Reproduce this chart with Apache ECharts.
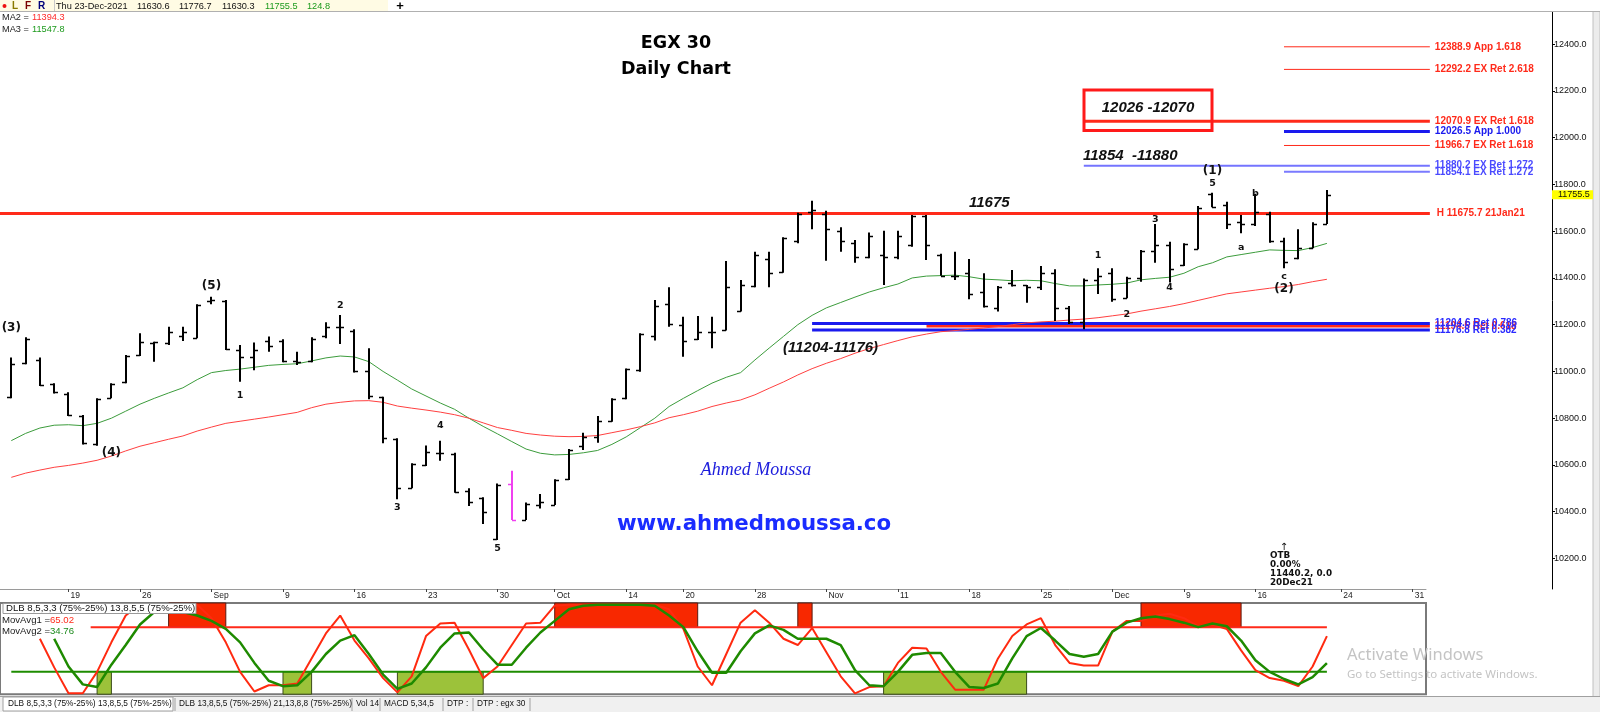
<!DOCTYPE html>
<html><head><meta charset="utf-8">
<script src="https://cdn.jsdelivr.net/npm/echarts@6.0.0/dist/echarts.min.js"></script>
<style>html,body{margin:0;padding:0;background:#fff}#c{width:1600px;height:712px}</style>
</head><body><div id="c"></div><script>
// ---------- DATA ----------
const barOpen  = [10890,11035,11050,10945,10905,10810,10690,10885,10955,11070,11120,11120,11150,11145,11300,11300,11090,11060,11130,11130,11045,11045,11150,11190,11175,11000,10890,10710,10500,10600,10650,10645,10490,10460,10285,10520,10365,10430,10430,10540,10680,10720,10790,10885,11005,11150,11290,11200,11140,11170,11178,11260,11365,11480,11425,11560,11680,11675,11600,11550,11490,11500,11490,11540,11665,11500,11410,11420,11340,11270,11380,11370,11360,11420,11270,11210,11390,11420,11315,11400,11515,11540,11455,11525,11760,11710,11640,11630,11675,11560,11485,11530,11630.6];
const barHigh  = [11060,11146,11060,10949,10911,10814,10885,10949,11070,11163,11127,11191,11191,11287,11320,11306,11113,11124,11149,11138,11084,11146,11210,11241,11180,11099,10892,10714,10607,10683,10704,10652,10500,10462,10521,10575,10439,10476,10539,10668,10738,10809,10885,11013,11163,11306,11360,11234,11237,11234,11473,11391,11512,11512,11574,11679,11730,11688,11617,11562,11594,11602,11602,11669,11669,11503,11512,11481,11420,11366,11434,11370,11451,11437,11280,11398,11441,11441,11405,11520,11631,11555,11548,11708,11765,11726,11669,11760,11683,11572,11608,11638,11776.7];
const barLow   = [10885,11031,10938,10906,10809,10688,10682,10885,10949,11066,11042,11113,11130,11142,11287,11092,10956,11005,11084,11039,11028,11039,11142,11117,10996,10881,10693,10453,10500,10595,10618,10481,10424,10347,10279,10364,10364,10414,10429,10536,10664,10695,10785,10881,10999,11132,11191,11063,11135,11099,11175,11256,11360,11360,11422,11548,11608,11474,11512,11465,11484,11370,11480,11533,11477,11409,11391,11309,11274,11256,11363,11294,11348,11216,11203,11180,11331,11298,11313,11384,11465,11380,11451,11523,11702,11609,11591,11622,11551,11441,11480,11527,11630.3];
const barClose = [11031,11140,10942,10912,10812,10692,10880,10945,11066,11125,11125,11170,11170,11285,11305,11095,11060,11090,11110,11045,11040,11140,11190,11190,11000,10895,10715,10500,10605,10655,10650,10485,10440,10400,10515,10365,10435,10440,10535,10665,10720,10790,10880,11010,11160,11280,11205,11130,11170,11170,11360,11370,11500,11420,11570,11675,11690,11610,11560,11490,11580,11490,11580,11665,11540,11410,11410,11330,11280,11360,11370,11360,11420,11270,11210,11390,11410,11310,11400,11515,11540,11440,11545,11700,11705,11630,11630,11680,11560,11470,11530,11630,11755.5];
const highlightBars = [35];
const ma3 = [10704,10735,10758,10770,10772,10768,10778,10800,10830,10860,10885,10908,10930,10965,10995,11004,11010,11018,11026,11030,11033,11045,11058,11066,11062,11042,11000,10963,10925,10895,10865,10838,10800,10765,10733,10700,10668,10650,10643,10645,10652,10662,10688,10720,10760,10800,10850,10885,10918,10950,10975,10995,11049,11100,11150,11200,11240,11272,11295,11318,11340,11358,11374,11400,11408,11410,11412,11405,11395,11392,11388,11390,11388,11376,11366,11366,11370,11373,11378,11392,11398,11403,11420,11448,11465,11490,11500,11510,11520,11518,11517,11530,11547.8];
const ma2 = [10547,10565,10578,10590,10598,10608,10620,10638,10660,10680,10695,10710,10724,10745,10762,10778,10787,10796,10805,10815,10825,10845,10860,10868,10874,10875,10868,10852,10843,10835,10826,10815,10800,10780,10760,10748,10735,10728,10723,10721,10722,10726,10738,10750,10764,10780,10802,10815,10830,10850,10865,10878,10900,10928,10955,10985,11012,11035,11055,11078,11098,11115,11132,11148,11160,11170,11175,11180,11186,11192,11200,11208,11212,11215,11220,11224,11230,11238,11246,11258,11268,11278,11290,11304,11318,11332,11340,11348,11356,11363,11372,11384,11394.3];
const oscFast = [null,null,62,30,1,1,25,58,88,100,100,100,100,100,85,58,25,3,10,10,12,40,68,88,60,40,18,2,20,65,79,80,50,18,31,55,79,80,99,100,100,100,100,100,100,100,95,73,31,10,45,80,94,80,62,55,74,47,20,1,8,9,35,52,51,25,5,5,5,40,65,78,85,55,35,32,32,70,82,82,88,90,85,76,78,73,49,27,18,15,9,31,65.02];
const oscSlow = [null,null,null,62,31,11,8,33,55,78,92,95,92,88,82,73,58,35,15,9,10,25,45,60,66,45,22,6,12,30,52,68,69,50,33,33,52,69,82,95,99,100,100,100,100,99,88,75,48,24,24,48,68,77,72,62,62,62,55,27,10,9,25,44,46,46,25,8,7,12,40,65,74,60,45,42,45,70,80,85,87,84,80,75,79,76,60,38,25,17,11,19,34.76];
const overboughtZones = [[11,15],[38,48],[55,56],[79,86]];
const oversoldZones   = [[6,7],[19,21],[27,33],[61,71]];
const xTickIdx    = [4,9,14,19,24,29,34,38,43,47,52,57,62,67,72,77,82,87,93,98];
const xTickLabels = ['19','26','Sep','9','16','23','30','Oct','14','20','28','Nov','11','18','25','Dec','9','16','24','31'];
const yTicks = [10200,10400,10600,10800,11000,11200,11400,11600,11800,12000,12200,12400];
const fibValues = [12388.9,12292.2,12070.9,12026.5,11966.7,11880.2,11854.1,11675.7,11194.5,11204.6,11176.8];
const fibLabels = ['12388.9 App 1.618','12292.2 EX Ret 2.618','12070.9 EX Ret 1.618','12026.5 App 1.000','11966.7 EX Ret 1.618','11880.2 EX Ret 1.272','11854.1 EX Ret 1.272','H 11675.7 21Jan21','11194.5 Ret 0.618','11204.6 Ret 0.786','11176.8 Ret 0.382'];
const fibStart = [89,89,75,89,89,75,89,-0.79,64,56,56];
const fibEnd = 99.2;
const waveText = ['(3)','(5)','(4)','1','2','3','4','5','1','2','3','4','5','(1)','a','b','c','(2)'];
const waveIdx  = [0,14,7,16,23,27,30,34,76,78,80,81,84,84,86,87,89,89];
const waveVal  = [11186,11366,10651,10899,11280,10416,10767,10244,11498,11242,11648,11361,11802,11857,11532,11763,11404,11353];
const osc75 = 75, osc25 = 25;
const lastBar = barClose.length - 1;

// ---------- STYLE ----------
const F = '"Liberation Sans", Arial, sans-serif';
const DV = '"DejaVu Sans", Verdana, sans-serif';
const fibColor = ['#ff2a1a','#ff2a1a','#ff2a1a','#1a1aee','#ff2a1a','#7474ff','#7a7aff','#ff2a1a','#ff2a1a','#1a1aee','#1a1aee'];
const fibTextColor = ['#ff2a1a','#ff2a1a','#ff2a1a','#1a1aee','#ff2a1a','#4a4aff','#4a4aff','#ff2a1a','#ff2a1a','#2a2aff','#2a2aff'];
const fibWidth = [1,1,3,3,1,2,2,3,3,3,3];

const xMin = -0.79, slot = 14.3;
const mainW = 1552, lowW = 1426;

function T(x, y, text, font, fill, align, valign, extra) {
  return Object.assign({type:'text', x:x, y:y, silent:true, z:50,
    style:{text:text, font:font, fill:fill, align:align||'left', verticalAlign:valign||'middle', textAlign:align||'left', textVerticalAlign:valign||'middle'}}, extra||{});
}
function R(x, y, w, h, fill, stroke, lw, z) {
  return {type:'rect', silent:true, z:z||40, shape:{x:x,y:y,width:w,height:h}, style:{fill:fill, stroke:stroke||null, lineWidth:lw||0}};
}
function L(x1, y1, x2, y2, c, w, z) {
  return {type:'line', silent:true, z:z||41, shape:{x1:x1,y1:y1,x2:x2,y2:y2}, style:{stroke:c, lineWidth:w||1}};
}

const ohlc = barOpen.map((o,i)=>[i,o,barHigh[i],barLow[i],barClose[i]]);
const chart = echarts.init(document.getElementById('c'), null, {renderer:'canvas'});

const option = {
  animation:false,
  backgroundColor:'#ffffff',
  grid:[
    {left:0, top:12, width:mainW, height:577},
    {left:0, top:603, width:lowW, height:91.2, show:true, borderColor:'#7a7a7a', borderWidth:2, backgroundColor:'transparent'}
  ],
  xAxis:[
    {gridIndex:0, type:'value', min:xMin, max:xMin+mainW/slot, show:false},
    {gridIndex:1, type:'value', min:xMin, max:xMin+lowW/slot, position:'top', offset:14,
     axisLine:{show:true, onZero:false, lineStyle:{color:'#9a9a9a', width:1}},
     axisTick:{show:true, inside:true, length:3, customValues:xTickIdx, lineStyle:{color:'#444'}},
     axisLabel:{show:true, inside:true, customValues:xTickIdx, margin:2, align:'left', verticalAlign:'top', padding:[0,0,0,2],
       fontFamily:F, fontSize:8.5, color:'#222', formatter:v=>{const k=xTickIdx.indexOf(Math.round(v)); return k<0?'':xTickLabels[k];}},
     splitLine:{show:false}}
  ],
  yAxis:[
    {gridIndex:0, type:'value', position:'right', min:10069.3, max:12537.75,
     axisLine:{show:true, onZero:false, lineStyle:{color:'#000', width:1}},
     axisTick:{show:true, inside:false, length:3, customValues:yTicks, lineStyle:{color:'#000'}},
     axisLabel:{show:true, customValues:yTicks, margin:2, fontFamily:F, fontSize:9, color:'#111', formatter:v=>v.toFixed(1)},
     splitLine:{show:false}},
    {gridIndex:1, type:'value', min:0, max:102, show:false, axisLine:{onZero:false}}
  ],
  series:[
    {type:'custom', xAxisIndex:0, yAxisIndex:0, z:2, silent:true,
     data: fibValues.map((v,k)=>[fibStart[k], fibEnd, v]),
     encode:{x:[0,1], y:2},
     renderItem:(p,api)=>{
       const k=p.dataIndex; const s=api.coord([api.value(0),api.value(2)]); const e=api.coord([api.value(1),api.value(2)]);
       return {type:'group', children:[
         {type:'line', shape:{x1:s[0],y1:s[1],x2:e[0],y2:e[1]}, style:{stroke:fibColor[k], lineWidth:fibWidth[k]}},
         {type:'text', x:e[0]+(k===7?7:5), y:e[1], style:{text:fibLabels[k], font:'bold 10px '+F, fill:fibTextColor[k], align:'left', verticalAlign:'middle', textAlign:'left', textVerticalAlign:'middle'}}
       ]};
     }},
    {type:'line', xAxisIndex:0, yAxisIndex:0, z:3, data:ma3.map((v,i)=>[i,v]), showSymbol:false, symbol:'none',
     lineStyle:{color:'#3c9c3c', width:1}},
    {type:'line', xAxisIndex:0, yAxisIndex:0, z:3, data:ma2.map((v,i)=>[i,v]), showSymbol:false, symbol:'none',
     lineStyle:{color:'#ff4040', width:1}},
    {type:'custom', xAxisIndex:0, yAxisIndex:0, z:4, silent:true, data:ohlc, encode:{x:0, y:[1,2,3,4]},
     renderItem:(p,api)=>{
       const i=api.value(0);
       const h=api.coord([i,api.value(2)]), l=api.coord([i,api.value(3)]), o=api.coord([i,api.value(1)]), c=api.coord([i,api.value(4)]);
       const col = highlightBars.indexOf(i)>=0 ? '#f040f0' : '#000';
       const x=Math.round(h[0]);
       return {type:'group', children:[
         {type:'line', shape:{x1:x,y1:h[1],x2:x,y2:l[1]}, style:{stroke:col,lineWidth:2}},
         {type:'line', shape:{x1:x-4,y1:Math.round(o[1])+0.5,x2:x,y2:Math.round(o[1])+0.5}, style:{stroke:col,lineWidth:1.5}},
         {type:'line', shape:{x1:x,y1:Math.round(c[1])+0.5,x2:x+4,y2:Math.round(c[1])+0.5}, style:{stroke:col,lineWidth:1.5}}
       ]};
     }},
    {type:'custom', xAxisIndex:0, yAxisIndex:0, z:5, silent:true, data:waveIdx.map((x,k)=>[x,waveVal[k]]),
     renderItem:(p,api)=>{
       const k=p.dataIndex; const pt=api.coord([api.value(0),api.value(1)]);
       const big = waveText[k].length>1;
       return {type:'text', x:pt[0], y:pt[1], style:{text:waveText[k], font:(big?'bold 12px ':'bold 9.5px ')+DV, fill:'#111',
         align:'center', verticalAlign:'middle', textAlign:'center', textVerticalAlign:'middle'}};
     }},
    {type:'custom', xAxisIndex:1, yAxisIndex:1, z:2, silent:true, data:overboughtZones,
     renderItem:(p,api)=>{
       const a=api.coord([api.value(0),102]), b=api.coord([api.value(1),osc75]);
       return {type:'rect', shape:{x:a[0],y:a[1],width:b[0]-a[0],height:b[1]-a[1]}, style:{fill:'#f82800', stroke:'#5a1a10', lineWidth:1}};
     }},
    {type:'custom', xAxisIndex:1, yAxisIndex:1, z:2, silent:true, data:oversoldZones,
     renderItem:(p,api)=>{
       const a=api.coord([api.value(0),osc25]), b=api.coord([api.value(1),0]);
       return {type:'rect', shape:{x:a[0],y:a[1],width:b[0]-a[0],height:b[1]-a[1]}, style:{fill:'#9cc23a', stroke:'#3a4a1a', lineWidth:1}};
     }},
    {type:'line', xAxisIndex:1, yAxisIndex:1, z:3, data:[[5.55,osc75],[lastBar,osc75]], symbol:'none', lineStyle:{color:'#ff2a1a', width:2}},
    {type:'line', xAxisIndex:1, yAxisIndex:1, z:3, data:[[0,osc25],[lastBar,osc25]], symbol:'none', lineStyle:{color:'#1e8c00', width:2}},
    {type:'line', xAxisIndex:1, yAxisIndex:1, z:4, data:oscFast.map((v,i)=>[i,v]), symbol:'none', connectNulls:false,
     lineStyle:{color:'#ff2a10', width:2}},
    {type:'line', xAxisIndex:1, yAxisIndex:1, z:5, data:oscSlow.map((v,i)=>[i,v]), symbol:'none', connectNulls:false,
     lineStyle:{color:'#1e8a00', width:2.5}}
  ],
  graphic:[]
};
chart.setOption(option);

const yLast = chart.convertToPixel({yAxisIndex:0}, barClose[lastBar]);
const g = [
  R(0,0,388,11,'#fffbe4'), R(388,0,1212,11,'#ffffff'),
  L(0,11.5,1600,11.5,'#b0b0b0',1),
  L(54.5,0,54.5,11,'#c8c8c8',1),
  {type:'circle', silent:true, z:42, shape:{cx:4.5,cy:6,r:2}, style:{fill:'#ee1111'}},
  T(12,6,'L','bold 10px '+F,'#8a7a00'), T(25,6,'F','bold 10px '+F,'#7a0000'), T(38,6,'R','bold 10px '+F,'#00007a'),
  T(56,6,'Thu 23-Dec-2021','9.2px '+F,'#111'),
  T(137,6,'11630.6','9.2px '+F,'#111'), T(179,6,'11776.7','9.2px '+F,'#111'),
  T(222,6,'11630.3','9.2px '+F,'#111'), T(265,6,'11755.5','9.2px '+F,'#1c9a1c'), T(307,6,'124.8','9.2px '+F,'#1c9a1c'),
  T(400,6,'+','bold 13px '+F,'#000','center'),
  T(2,17,'MA2 =','9.2px '+F,'#222'), T(32,17,'11394.3','9.2px '+F,'#ff2a2a'),
  T(2,29,'MA3 =','9.2px '+F,'#222'), T(32,29,'11547.8','9.2px '+F,'#1c9a1c'),
  T(676,43,'EGX 30','bold 17.5px '+DV,'#000','center'),
  T(676,69,'Daily Chart','bold 17.5px '+DV,'#000','center'),
  {type:'rect', silent:true, z:45, shape:{x:1084,y:90,width:128,height:40.5}, style:{fill:null, stroke:'#ff1a1a', lineWidth:3}},
  T(1148,108,'12026 -12070','italic bold 15px '+F,'#111','center'),
  T(1083,156,'11854  -11880','italic bold 15px '+F,'#111','left'),
  T(969,203,'11675','italic bold 15px '+F,'#111','left'),
  T(783,348,'(11204-11176)','italic bold 15px '+F,'#111','left'),
  T(756,470,'Ahmed Moussa','italic 18px "Liberation Serif", "DejaVu Serif", serif','#1c1cdc','center'),
  T(754,524,'www.ahmedmoussa.co','bold 21.3px '+DV,'#1a2cff','center'),
  T(1284,547,'\u2191','10px '+DV,'#111','center'),
  T(1270,556,'OTB','bold 8.8px '+DV,'#111'), T(1270,565,'0.00%','bold 8.8px '+DV,'#111'),
  T(1270,574,'11440.2, 0.0','bold 8.8px '+DV,'#111'), T(1270,583,'20Dec21','bold 8.8px '+DV,'#111'),
  R(1552,yLast-4.5,41,9,'#ffff00'), T(1558,yLast,'11755.5','9px '+F,'#111'),
  R(1593,0,7,712,'#ececec','#c0c0c0',1,39),
  R(3,603.5,193,10,'#ffffff','#9a9a9a',1,44),
  T(6,608.5,'DLB 8,5,3,3 (75%-25%) 13,8,5,5 (75%-25%)','9.6px '+F,'#111'),
  T(2,620.5,'MovAvg1 =','9.6px '+F,'#222'), T(50,620.5,'65.02','9.6px '+F,'#ff2a1a'),
  T(2,631.5,'MovAvg2 =','9.6px '+F,'#222'), T(50,631.5,'34.76','9.6px '+F,'#1c8a1c'),
  T(1347,655,'Activate Windows','16.5px "Noto Sans", "Open Sans", sans-serif','#c4c4c4'),
  T(1347,675,'Go to Settings to activate Windows.','11.5px "Noto Sans", "Open Sans", sans-serif','#c4c4c4'),
  R(0,696,1600,16,'#f0f0f0'),
  L(0,696.5,1600,696.5,'#a0a0a0',1),
  R(3,697,170,14,'#ffffff','#a0a0a0',1,42),
  T(8,704,'DLB 8,5,3,3 (75%-25%) 13,8,5,5 (75%-25%)','8.3px '+F,'#111'),
  T(179,704,'DLB 13,8,5,5 (75%-25%) 21,13,8,8 (75%-25%)','8.3px '+F,'#111'),
  T(356,704,'Vol 14','8.3px '+F,'#111'),
  T(384,704,'MACD 5,34,5','8.3px '+F,'#111'),
  T(447,704,'DTP :','8.3px '+F,'#111'),
  T(477,704,'DTP : egx 30','8.3px '+F,'#111'),
  L(175,698,175,711,'#a0a0a0',1,43), L(352,698,352,711,'#a0a0a0',1,43), L(380,698,380,711,'#a0a0a0',1,43),
  L(443,698,443,711,'#a0a0a0',1,43), L(473,698,473,711,'#a0a0a0',1,43), L(530,698,530,711,'#a0a0a0',1,43)
];
chart.setOption({graphic:g});
</script></body></html>
